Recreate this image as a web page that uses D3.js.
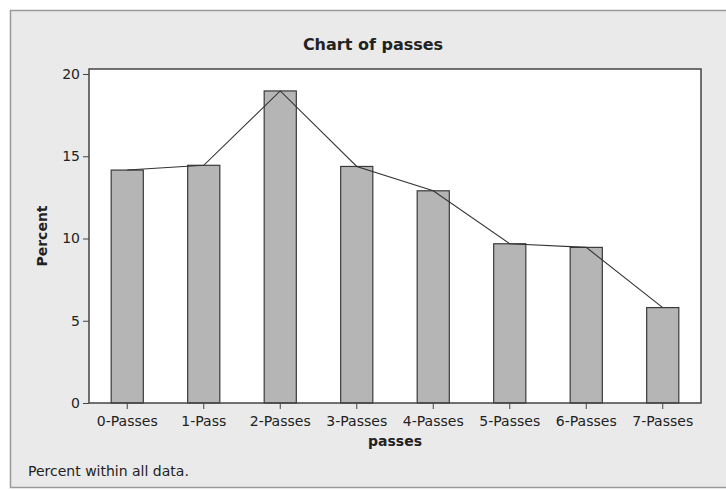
<!DOCTYPE html>
<html>
<head>
<meta charset="utf-8">
<script src="https://cdn.jsdelivr.net/npm/d3@7"></script>
<style>
  html, body { margin: 0; padding: 0; background: #fff; }
  svg { display: block; font-family: "DejaVu Sans", sans-serif; }
</style>
</head>
<body>
<svg id="chart"></svg>
<script>
// data
const categories = ["0-Passes", "1-Pass", "2-Passes", "3-Passes", "4-Passes", "5-Passes", "6-Passes", "7-Passes"];
const percents = [14.16, 14.45, 18.97, 14.38, 12.9, 9.68, 9.46, 5.8];
const yTicks = [0, 5, 10, 15, 20];

const W = 726, H = 490;
const plot = { left: 89, top: 69, right: 701, bottom: 403 };

const svg = d3.select("#chart").attr("width", W).attr("height", H);

// outer grey frame (runs off the right edge like the scan)
svg.append("rect")
  .attr("x", 10.5).attr("y", 10.5)
  .attr("width", W).attr("height", 477)
  .attr("fill", "#eaeaea")
  .attr("stroke", "#9a9a9a")
  .attr("stroke-width", 1.5);

const x = d3.scaleBand()
  .domain(categories)
  .range([plot.left, plot.right])
  .paddingInner(0.58)
  .paddingOuter(0.29);

const y = d3.scaleLinear()
  .domain([0, 20])
  .range([plot.bottom, 74]);

// white plot area
svg.append("rect")
  .attr("x", plot.left).attr("y", plot.top)
  .attr("width", plot.right - plot.left)
  .attr("height", plot.bottom - plot.top)
  .attr("fill", "#fff");

// bars
svg.append("g").selectAll("rect")
  .data(percents)
  .join("rect")
  .attr("x", (d, i) => x(categories[i]))
  .attr("y", d => y(d))
  .attr("width", x.bandwidth())
  .attr("height", d => y(0) - y(d))
  .attr("fill", "#b5b5b5")
  .attr("stroke", "#3a3a3a")
  .attr("stroke-width", 1.2);

// connect line through bar tops
const line = d3.line()
  .x((d, i) => x(categories[i]) + x.bandwidth() / 2)
  .y(d => y(d));

svg.append("path")
  .datum(percents)
  .attr("d", line)
  .attr("fill", "none")
  .attr("stroke", "#333")
  .attr("stroke-width", 1.1);

// plot border
svg.append("rect")
  .attr("x", plot.left).attr("y", plot.top)
  .attr("width", plot.right - plot.left)
  .attr("height", plot.bottom - plot.top)
  .attr("fill", "none")
  .attr("stroke", "#444")
  .attr("stroke-width", 1.5);

// axes
const yAxis = svg.append("g")
  .attr("transform", `translate(${plot.left},0)`)
  .call(d3.axisLeft(y).tickValues(yTicks).tickSize(6).tickPadding(3));

const xAxis = svg.append("g")
  .attr("transform", `translate(0,${plot.bottom})`)
  .call(d3.axisBottom(x).tickSize(6).tickPadding(7.5));

[yAxis, xAxis].forEach(a => {
  a.select(".domain").remove();
  a.selectAll("line").attr("stroke", "#444");
  a.selectAll("text")
    .attr("fill", "#222")
    .style("font-size", "14px")
    .style("font-family", "'DejaVu Sans', sans-serif");
});

// titles
svg.append("text")
  .attr("x", 373).attr("y", 50)
  .attr("text-anchor", "middle")
  .attr("font-size", "16px")
  .attr("font-weight", "bold")
  .attr("fill", "#222")
  .text("Chart of passes");

svg.append("text")
  .attr("x", (plot.left + plot.right) / 2).attr("y", 446)
  .attr("text-anchor", "middle")
  .attr("font-size", "14px")
  .attr("font-weight", "bold")
  .attr("fill", "#222")
  .text("passes");

svg.append("text")
  .attr("transform", `translate(47,${(plot.top + plot.bottom) / 2}) rotate(-90)`)
  .attr("text-anchor", "middle")
  .attr("font-size", "14px")
  .attr("font-weight", "bold")
  .attr("fill", "#222")
  .text("Percent");

svg.append("text")
  .attr("x", 28).attr("y", 476)
  .attr("font-size", "14px")
  .attr("fill", "#222")
  .text("Percent within all data.");
</script>
</body>
</html>
